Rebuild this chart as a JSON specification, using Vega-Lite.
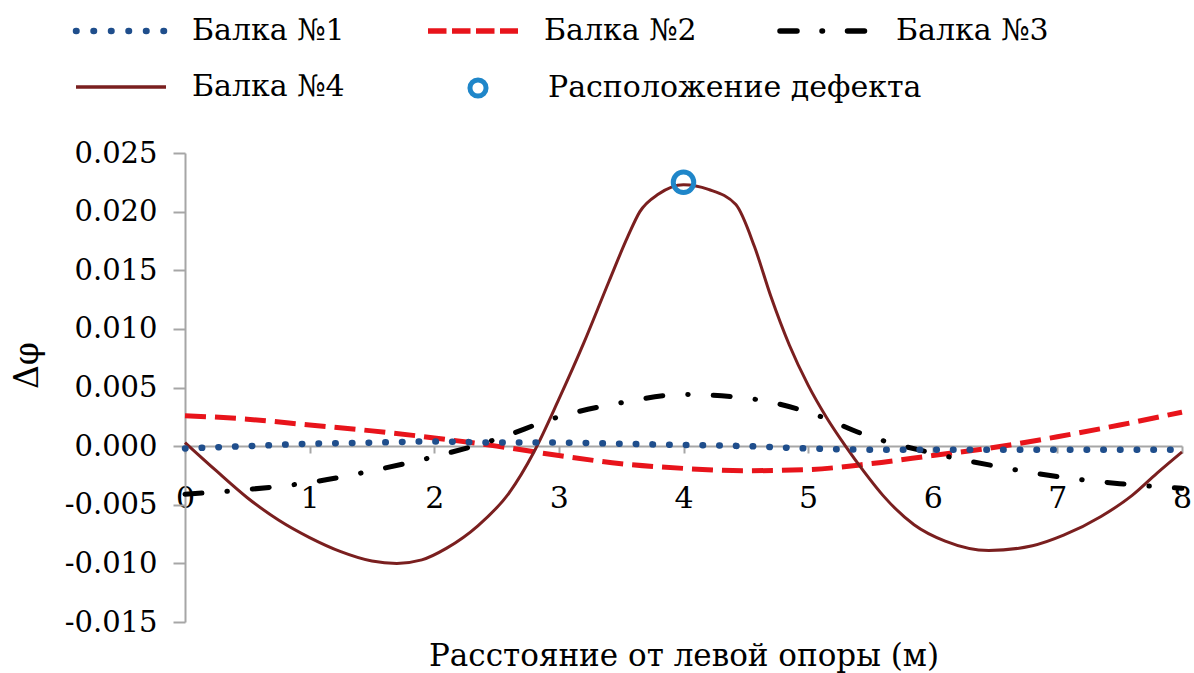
{
  "$schema": "https://vega.github.io/schema/vega-lite/v6.json",
  "width": 997,
  "height": 469,
  "autosize": {"type": "none"},
  "padding": {"left": 185, "top": 153, "right": 12, "bottom": 51},
  "background": "white",
  "config": {"view": {"stroke": null}, "font": "DejaVu Serif"},
  "datasets": {
    "curves": [
      {"x": 0, "y": -0.0002, "series": "Балка №1"},
      {"x": 0.5, "y": 0.0000, "series": "Балка №1"},
      {"x": 1, "y": 0.0002, "series": "Балка №1"},
      {"x": 1.5, "y": 0.0003, "series": "Балка №1"},
      {"x": 2, "y": 0.0004, "series": "Балка №1"},
      {"x": 2.5, "y": 0.0003, "series": "Балка №1"},
      {"x": 3, "y": 0.0003, "series": "Балка №1"},
      {"x": 3.5, "y": 0.0002, "series": "Балка №1"},
      {"x": 4, "y": 0.0001, "series": "Балка №1"},
      {"x": 4.5, "y": 0.0000, "series": "Балка №1"},
      {"x": 5, "y": -0.0002, "series": "Балка №1"},
      {"x": 5.5, "y": -0.0003, "series": "Балка №1"},
      {"x": 6, "y": -0.0003, "series": "Балка №1"},
      {"x": 6.5, "y": -0.0003, "series": "Балка №1"},
      {"x": 7, "y": -0.0003, "series": "Балка №1"},
      {"x": 7.5, "y": -0.0003, "series": "Балка №1"},
      {"x": 8, "y": -0.0003, "series": "Балка №1"},

      {"x": 0, "y": 0.0026, "series": "Балка №2"},
      {"x": 0.5, "y": 0.0023, "series": "Балка №2"},
      {"x": 1, "y": 0.0018, "series": "Балка №2"},
      {"x": 1.5, "y": 0.0013, "series": "Балка №2"},
      {"x": 2, "y": 0.0007, "series": "Балка №2"},
      {"x": 2.5, "y": 0.0000, "series": "Балка №2"},
      {"x": 3, "y": -0.0008, "series": "Балка №2"},
      {"x": 3.5, "y": -0.0015, "series": "Балка №2"},
      {"x": 4, "y": -0.0019, "series": "Балка №2"},
      {"x": 4.5, "y": -0.0021, "series": "Балка №2"},
      {"x": 5, "y": -0.0020, "series": "Балка №2"},
      {"x": 5.5, "y": -0.0015, "series": "Балка №2"},
      {"x": 6, "y": -0.0008, "series": "Балка №2"},
      {"x": 6.5, "y": -0.0001, "series": "Балка №2"},
      {"x": 7, "y": 0.0008, "series": "Балка №2"},
      {"x": 7.5, "y": 0.0018, "series": "Балка №2"},
      {"x": 8, "y": 0.0029, "series": "Балка №2"},

      {"x": 0, "y": -0.0041, "series": "Балка №3"},
      {"x": 0.5, "y": -0.0037, "series": "Балка №3"},
      {"x": 1, "y": -0.0031, "series": "Балка №3"},
      {"x": 1.5, "y": -0.0021, "series": "Балка №3"},
      {"x": 2, "y": -0.0009, "series": "Балка №3"},
      {"x": 2.5, "y": 0.0006, "series": "Балка №3"},
      {"x": 3, "y": 0.0025, "series": "Балка №3"},
      {"x": 3.5, "y": 0.0037, "series": "Балка №3"},
      {"x": 4, "y": 0.0044, "series": "Балка №3"},
      {"x": 4.5, "y": 0.0041, "series": "Балка №3"},
      {"x": 5, "y": 0.0029, "series": "Балка №3"},
      {"x": 5.5, "y": 0.0008, "series": "Балка №3"},
      {"x": 6, "y": -0.0006, "series": "Балка №3"},
      {"x": 6.5, "y": -0.0017, "series": "Балка №3"},
      {"x": 7, "y": -0.0026, "series": "Балка №3"},
      {"x": 7.5, "y": -0.0032, "series": "Балка №3"},
      {"x": 8, "y": -0.0036, "series": "Балка №3"},

      {"x": 0, "y": 0.0003, "series": "Балка №4"},
      {"x": 0.25, "y": -0.0021, "series": "Балка №4"},
      {"x": 0.5, "y": -0.0044, "series": "Балка №4"},
      {"x": 0.75, "y": -0.0063, "series": "Балка №4"},
      {"x": 1.0, "y": -0.0078, "series": "Балка №4"},
      {"x": 1.25, "y": -0.0090, "series": "Балка №4"},
      {"x": 1.5, "y": -0.0098, "series": "Балка №4"},
      {"x": 1.7, "y": -0.0100, "series": "Балка №4"},
      {"x": 1.9, "y": -0.0097, "series": "Балка №4"},
      {"x": 2.1, "y": -0.0087, "series": "Балка №4"},
      {"x": 2.35, "y": -0.0068, "series": "Балка №4"},
      {"x": 2.6, "y": -0.0040, "series": "Балка №4"},
      {"x": 2.8, "y": -0.0005, "series": "Балка №4"},
      {"x": 3.0, "y": 0.0040, "series": "Балка №4"},
      {"x": 3.2, "y": 0.0088, "series": "Балка №4"},
      {"x": 3.4, "y": 0.0140, "series": "Балка №4"},
      {"x": 3.55, "y": 0.0178, "series": "Балка №4"},
      {"x": 3.65, "y": 0.0200, "series": "Балка №4"},
      {"x": 3.8, "y": 0.0215, "series": "Балка №4"},
      {"x": 4.0, "y": 0.0223, "series": "Балка №4"},
      {"x": 4.2, "y": 0.0219, "series": "Балка №4"},
      {"x": 4.42, "y": 0.0206, "series": "Балка №4"},
      {"x": 4.57, "y": 0.0170, "series": "Балка №4"},
      {"x": 4.7, "y": 0.0128, "series": "Балка №4"},
      {"x": 4.85, "y": 0.0086, "series": "Балка №4"},
      {"x": 5.0, "y": 0.0052, "series": "Балка №4"},
      {"x": 5.15, "y": 0.0024, "series": "Балка №4"},
      {"x": 5.3, "y": 0.0000, "series": "Балка №4"},
      {"x": 5.45, "y": -0.0022, "series": "Балка №4"},
      {"x": 5.6, "y": -0.0042, "series": "Балка №4"},
      {"x": 5.85, "y": -0.0067, "series": "Балка №4"},
      {"x": 6.1, "y": -0.0081, "series": "Балка №4"},
      {"x": 6.45, "y": -0.0089, "series": "Балка №4"},
      {"x": 6.8, "y": -0.0085, "series": "Балка №4"},
      {"x": 7.05, "y": -0.0076, "series": "Балка №4"},
      {"x": 7.35, "y": -0.0060, "series": "Балка №4"},
      {"x": 7.6, "y": -0.0042, "series": "Балка №4"},
      {"x": 7.8, "y": -0.0023, "series": "Балка №4"},
      {"x": 8.0, "y": -0.0005, "series": "Балка №4"}
    ],
    "defect": [
      {"x": 4, "y": 0.0225, "series": "Расположение дефекта"}
    ]
  },
  "encoding": {
    "x": {
      "field": "x", "type": "quantitative",
      "scale": {"domain": [0, 8], "nice": false, "zero": false},
      "axis": {
        "orient": "bottom", "offset": -176,
        "values": [0, 1, 2, 3, 4, 5, 6, 7, 8], "format": "d",
        "grid": false, "tickSize": 7, "tickWidth": 2, "tickColor": "#A6A6A6",
        "domainColor": "#A6A6A6", "domainWidth": 2,
        "labelPadding": 30, "labelFont": "DejaVu Serif", "labelFontSize": 30, "labelColor": "#000000",
        "labelFlush": false, "labelOverlap": false,
        "title": "Расстояние от левой опоры (м)",
        "titleFont": "DejaVu Serif", "titleFontSize": 31, "titleFontWeight": "normal", "titleColor": "#000000",
        "titleY": 219, "titleBaseline": "alphabetic"
      }
    },
    "y": {
      "field": "y", "type": "quantitative",
      "scale": {"domain": [-0.015, 0.025], "nice": false, "zero": false},
      "axis": {
        "values": [-0.015, -0.01, -0.005, 0, 0.005, 0.01, 0.015, 0.02, 0.025],
        "labelExpr": "(datum.value < -0.0000001 ? '-' : '') + format(abs(datum.value), '.3f')",
        "grid": false, "tickSize": 12, "tickWidth": 2, "tickColor": "#A6A6A6",
        "domainColor": "#A6A6A6", "domainWidth": 2,
        "labelPadding": 16, "labelFont": "DejaVu Serif", "labelFontSize": 29, "labelColor": "#000000",
        "labelOverlap": false, "labelFlush": false,
        "title": "Δφ",
        "titleFont": "DejaVu Serif", "titleFontSize": 33, "titleFontWeight": "normal", "titleColor": "#000000",
        "titleX": -158, "titleY": 212, "titleAngle": -90, "titleAlign": "center", "titleBaseline": "middle"
      }
    }
  },
  "layer": [
    {
      "data": {"name": "curves"},
      "transform": [{"filter": "datum.series === 'Балка №2'"}],
      "mark": {"type": "line", "interpolate": "monotone", "strokeWidth": 5, "strokeDash": [21, 9], "strokeCap": "butt"},
      "encoding": {
        "color": {
          "field": "series", "type": "nominal",
          "scale": {
            "domain": ["Балка №1", "Балка №2", "Балка №3", "Балка №4"],
            "range": ["#1F4E8C", "#E8141B", "#000000", "#7A1F1F"]
          },
          "legend": {
            "orient": "none", "legendX": -109, "legendY": -137,
            "columns": 3, "direction": "horizontal",
            "title": null, "padding": 0,
            "symbolType": "stroke", "symbolSize": 8100, "symbolStrokeWidth": 5, "symbolOpacity": 1,
            "symbolOffset": 30,
            "labelFont": "DejaVu Serif", "labelFontSize": 30, "labelColor": "#000000",
            "labelOffset": 56, "labelLimit": 0,
            "columnPadding": 72, "rowPadding": 26,
            "encode": {
              "symbols": {
                "update": {
                  "strokeDash": {"signal": "datum.value === 'Балка №1' ? [0.5, 17] : datum.value === 'Балка №2' ? [18.5, 5.5] : datum.value === 'Балка №3' ? [17, 25, 0.5, 25] : [1, 0]"},
                  "strokeCap": {"signal": "datum.value === 'Балка №1' || datum.value === 'Балка №3' ? 'round' : 'butt'"},
                  "strokeWidth": {"signal": "datum.value === 'Балка №1' ? 6.5 : datum.value === 'Балка №4' ? 3.5 : 5.5"},
                  "stroke": {"scale": "color", "field": "value"},
                  "fill": {"value": "transparent"},
                  "opacity": {"value": 1}
                }
              }
            }
          }
        }
      }
    },
    {
      "data": {"name": "curves"},
      "transform": [{"filter": "datum.series === 'Балка №3'"}],
      "mark": {"type": "line", "interpolate": "monotone", "strokeWidth": 5, "strokeDash": [17, 25, 0.5, 25], "strokeCap": "round"},
      "encoding": {"color": {"field": "series", "type": "nominal"}}
    },
    {
      "data": {"name": "curves"},
      "transform": [{"filter": "datum.series === 'Балка №4'"}],
      "mark": {"type": "line", "interpolate": "monotone", "strokeWidth": 3},
      "encoding": {"color": {"field": "series", "type": "nominal"}}
    },
    {
      "data": {"name": "curves"},
      "transform": [{"filter": "datum.series === 'Балка №1'"}],
      "mark": {"type": "line", "interpolate": "monotone", "strokeWidth": 6.5, "strokeDash": [0.5, 16.2], "strokeCap": "round"},
      "encoding": {"color": {"field": "series", "type": "nominal"}}
    },
    {
      "data": {"name": "defect"},
      "mark": {"type": "point", "filled": false, "strokeWidth": 5, "size": 420, "opacity": 1, "color": "#1F86C9"},
      "encoding": {
        "shape": {
          "field": "series", "type": "nominal",
          "scale": {"domain": ["Расположение дефекта"], "range": ["circle"]},
          "legend": {
            "orient": "none", "legendX": 265, "legendY": -80,
            "title": null, "padding": 0,
            "symbolSize": 260, "symbolStrokeWidth": 5, "symbolStrokeColor": "#1F86C9",
            "symbolFillColor": "transparent", "symbolOpacity": 1,
            "symbolOffset": 13,
            "labelFont": "DejaVu Serif", "labelFontSize": 30, "labelColor": "#000000",
            "labelOffset": 55, "labelLimit": 0
          }
        }
      }
    }
  ]
}
